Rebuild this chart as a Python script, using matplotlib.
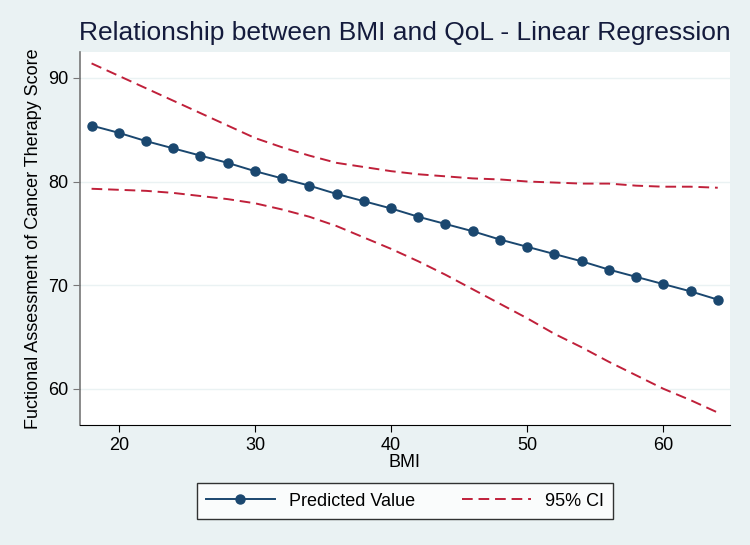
import matplotlib
matplotlib.use('Agg')
import matplotlib.pyplot as plt

plt.rcParams['font.family'] = ['Liberation Sans', 'DejaVu Sans']

bmi = [18, 20, 22, 24, 26, 28, 30, 32, 34, 36, 38, 40, 42, 44, 46, 48, 50, 52, 54, 56, 58, 60, 62, 64]
predicted = [85.4, 84.7, 83.9, 83.2, 82.5, 81.8, 81.0, 80.3, 79.6, 78.8, 78.1, 77.4,
             76.6, 75.9, 75.2, 74.4, 73.7, 73.0, 72.3, 71.5, 70.8, 70.1, 69.4, 68.6]
ci_upper = [91.4, 90.2, 89.0, 87.8, 86.6, 85.4, 84.2, 83.3, 82.5, 81.8, 81.4, 81.0,
            80.7, 80.5, 80.3, 80.2, 80.0, 79.9, 79.8, 79.8, 79.6, 79.5, 79.5, 79.4]
ci_lower = [79.3, 79.2, 79.1, 78.9, 78.6, 78.3, 77.9, 77.3, 76.6, 75.7, 74.6, 73.5,
            72.3, 71.0, 69.6, 68.2, 66.8, 65.3, 64.0, 62.6, 61.3, 60.0, 58.9, 57.7]

bg = '#eaf2f3'
navy = '#1a476f'
red = '#c0203a'

fig = plt.figure(figsize=(7.5, 5.45), dpi=100, facecolor=bg)
ax = fig.add_axes([80 / 750, 1 - 425 / 545, 650 / 750, 373 / 545])
ax.set_facecolor('white')

ax.plot(bmi, predicted, color=navy, lw=1.4, marker='o', ms=6.5,
        mfc=navy, mec=navy, label='Predicted Value', zorder=3)
ax.plot(bmi, ci_upper, color=red, lw=1.4, ls=(0, (5.5, 3)), label='95% CI', zorder=2)
ax.plot(bmi, ci_lower, color=red, lw=1.4, ls=(0, (5.5, 3)), zorder=2)

ax.set_xlim(17.15, 64.9)
ax.set_ylim(56.5, 92.5)
ax.set_xticks([20, 30, 40, 50, 60])
ax.set_yticks([60, 70, 80, 90])
ax.yaxis.grid(True, color=bg, lw=1)
ax.set_axisbelow(True)

for s in ['top', 'right']:
    ax.spines[s].set_visible(False)
ax.spines['left'].set_color('#777777')
ax.spines['left'].set_linewidth(1.2)
ax.spines['bottom'].set_color('black')
ax.tick_params(axis='both', direction='out', length=5, labelsize=13, colors='black')
ax.tick_params(axis='y', color='#777777')

ax.set_xlabel('BMI', fontsize=13, labelpad=0)
ax.set_ylabel('Fuctional Assessment of Cancer Therapy Score', fontsize=13, labelpad=4)
fig.text(0.54, 1 - 33 / 545, 'Relationship between BMI and QoL - Linear Regression',
         ha='center', va='center', fontsize=19, color='#141b3c')

leg = fig.legend(loc='center', bbox_to_anchor=(405 / 750, 1 - 501 / 545), ncol=2,
                 fontsize=13, frameon=True, fancybox=False, edgecolor='black',
                 handlelength=3.8, columnspacing=2.6, borderpad=0.5)
leg.get_frame().set_linewidth(1)

fig.savefig('out.png', dpi=100, facecolor=bg)
